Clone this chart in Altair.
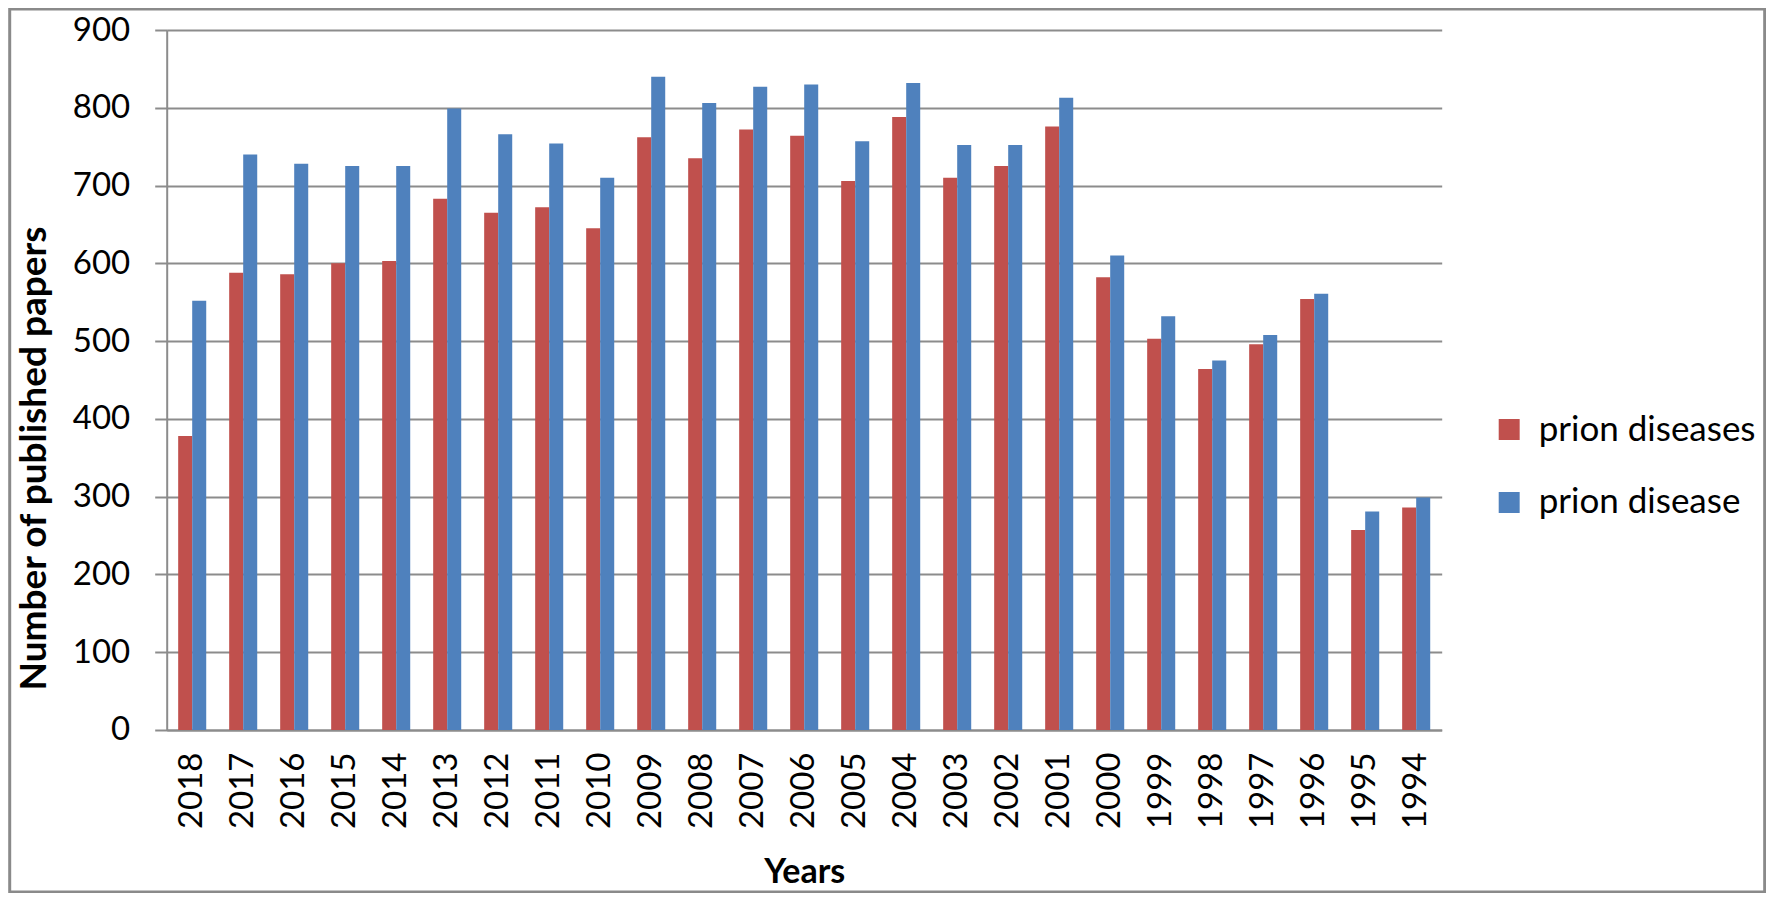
import altair as alt
import pandas as pd

years = ["2018", "2017", "2016", "2015", "2014", "2013", "2012", "2011", "2010",
         "2009", "2008", "2007", "2006", "2005", "2004", "2003", "2002", "2001",
         "2000", "1999", "1998", "1997", "1996", "1995", "1994"]
prion_diseases = [378, 588, 586, 600, 603, 683, 665, 672, 645,
                  762, 735, 772, 764, 706, 788, 710, 725, 776,
                  582, 503, 464, 496, 554, 257, 286]
prion_disease = [552, 740, 728, 725, 725, 799, 766, 754, 710,
                 840, 806, 827, 830, 757, 832, 752, 752, 813,
                 610, 532, 475, 508, 561, 281, 299]
series_names = ["prion diseases", "prion disease"]
series_colors = ["#C0504D", "#4F81BD"]
y_ticks = [0, 100, 200, 300, 400, 500, 600, 700, 800, 900]

rows = []
for i, yr in enumerate(years):
    rows.append({"year": yr, "series": series_names[0], "value": prion_diseases[i]})
    rows.append({"year": yr, "series": series_names[1], "value": prion_disease[i]})
df = pd.DataFrame(rows)

W, H = 1275, 700
FONT = "Lato"
GRID = "#8c8c8c"

bars = alt.Chart(df).mark_bar().encode(
    x=alt.X("year:N", sort=years,
            scale=alt.Scale(paddingInner=0.45, paddingOuter=0.225),
            axis=alt.Axis(title="Years", labelAngle=-90, labelFontSize=33,
                          labelFont=FONT, labelColor="#000000", labelPadding=22,
                          ticks=False, domainColor=GRID, domainWidth=2,
                          titleFont=FONT, titleFontSize=34, titleFontWeight="bold",
                          titleColor="#000000", titleX=W / 2, titleY=153,
                          titleBaseline="alphabetic", titleAlign="center")),
    xOffset=alt.XOffset("series:N", sort=series_names,
                        scale=alt.Scale(paddingInner=0, paddingOuter=0)),
    y=alt.Y("value:Q", scale=alt.Scale(domain=[0, 900], nice=False),
            axis=alt.Axis(title="Number of published papers", values=y_ticks,
                          labelFontSize=33, labelFont=FONT, labelColor="#000000",
                          labelPadding=25, tickSize=12, tickColor=GRID, tickWidth=2,
                          domainColor=GRID, domainWidth=2,
                          grid=True, gridColor=GRID, gridWidth=2,
                          titleFont=FONT, titleFontSize=37, titleFontWeight="bold",
                          titleColor="#000000", titleX=-132, titleY=428,
                          titleAngle=-90, titleAlign="center", titleBaseline="middle")),
    color=alt.Color("series:N", sort=series_names,
                    scale=alt.Scale(domain=series_names, range=series_colors),
                    legend=alt.Legend(title=None, orient="none", legendX=1325, legendY=382,
                                      symbolType="square", symbolSize=440,
                                      symbolStrokeWidth=0, symbolOpacity=1,
                                      labelFont=FONT, labelFontSize=35, labelLimit=0,
                                      labelColor="#000000", labelOffset=12,
                                      rowPadding=37, padding=0)),
)

frame = alt.Chart(alt.Data(values=[{"a": 1}])).mark_rect(
    fillOpacity=0, stroke="#8a8a8a", strokeWidth=3
).encode(
    x=alt.value(-157), x2=alt.value(1598), y=alt.value(-21), y2=alt.value(862)
)

chart = alt.layer(frame, bars).properties(
    width=W, height=H,
    autosize=alt.AutoSizeParams(type="none"),
    padding={"left": 158.7, "top": 22, "right": 324, "bottom": 163},
    background="white",
).configure_view(stroke=None)

chart.save("out.html", embed_options={"renderer": "svg", "actions": False})
